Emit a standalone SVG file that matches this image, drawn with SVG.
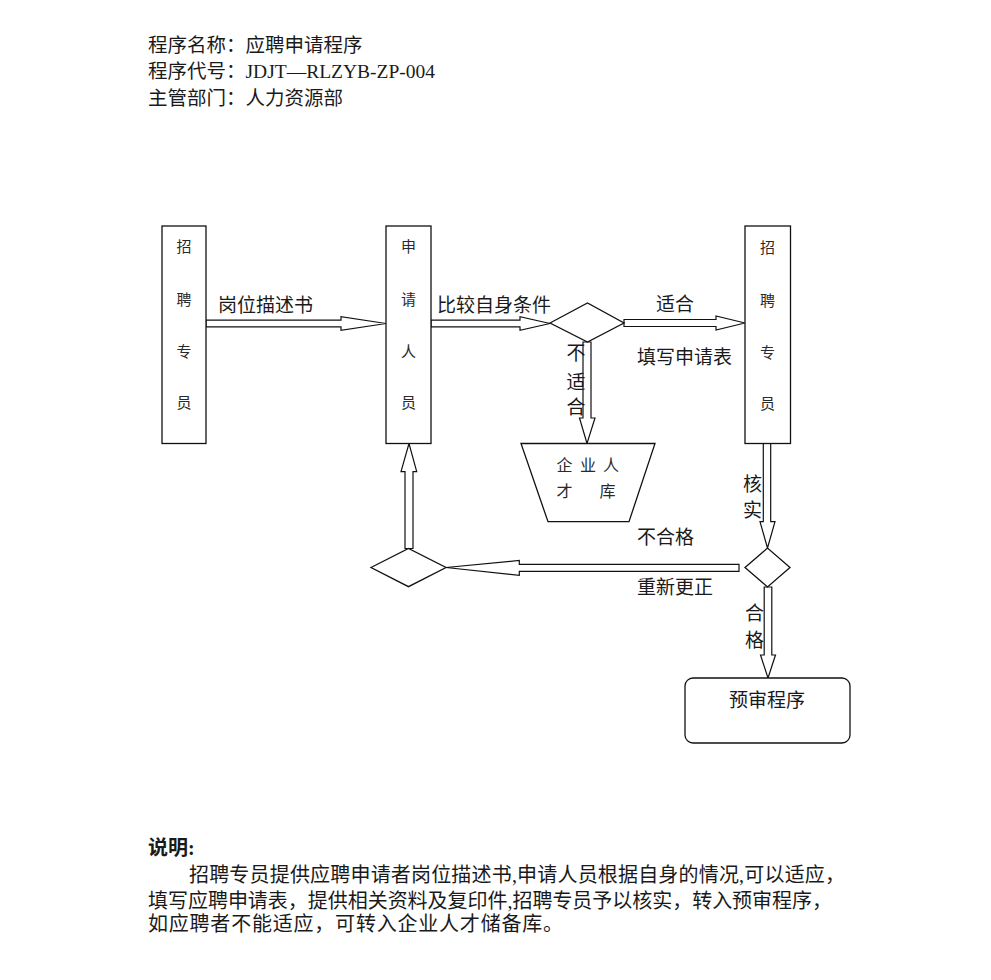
<svg xmlns="http://www.w3.org/2000/svg" width="991" height="980" viewBox="0 0 991 980">
<style>
text{font-family:"Liberation Serif","Noto Sans CJK SC",serif;fill:#1a1a1a}
.hd{font-size:19.5px}
.lb{font-size:19px}
.bx{font-size:15px;text-anchor:middle;fill:#2a2a2a}
.tp{font-size:16px;fill:#2a2a2a}
.sh{fill:#fff;stroke:#111;stroke-width:1.3}
.ar{fill:#fff;stroke:#111;stroke-width:1.2;stroke-linejoin:miter}
.bd{font-size:20px}
</style>
<rect width="991" height="980" fill="#fff"/>
<g id="header">
<text class="hd" x="148" y="52">程序名称：应聘申请程序</text>
<text class="hd" x="148" y="78">程序代号：JDJT—RLZYB-ZP-004</text>
<text class="hd" x="148" y="104.5">主管部门：人力资源部</text>
</g>
<g id="connectors">
<polygon class="ar" points="206,320.2 341,320.2 341,316.7 386,323.5 341,330.3 341,326.8 206,326.8"/>
<polygon class="ar" points="431,320.2 520,320.2 520,316.7 550,323.5 520,330.3 520,326.8 431,326.8"/>
<polygon class="ar" points="624,319.5 716,319.5 716,316 745,323 716,330 716,326.5 624,326.5"/>
<polygon class="ar" points="583,342 591,342 591,418 595,418 587,443.5 579.5,418 583,418"/>
<polygon class="ar" points="763.3,443.5 770.7,443.5 770.7,521.7 775,521.7 767.5,548 760,521.7 763.3,521.7"/>
<polygon class="ar" points="739,564.3 519.3,564.3 519.3,560.5 446,567.5 519.3,575.3 519.3,571.3 739,571.3"/>
<polygon class="ar" points="405,548.5 413,548.5 413,471.7 416.7,471.7 409,443.5 401,471.7 405,471.7"/>
<polygon class="ar" points="764.2,587 771.8,587 771.8,655 775.5,655 768,678 760.5,655 764.2,655"/>
<text class="lb" x="218" y="311.5">岗位描述书</text>
<text class="lb" x="437" y="311.5">比较自身条件</text>
<text class="lb" x="656" y="311">适合</text>
<text class="lb" x="637" y="364">填写申请表</text>
<text class="lb" x="566.5" y="360">不</text>
<text class="lb" x="566.5" y="388.5">适</text>
<text class="lb" x="566.5" y="414">合</text>
<text class="lb" x="743" y="491">核</text>
<text class="lb" x="743" y="517">实</text>
<text class="lb" x="637" y="544">不合格</text>
<text class="lb" x="637" y="594">重新更正</text>
<text class="lb" x="745" y="620">合</text>
<text class="lb" x="745" y="647">格</text>
</g>
<g id="n-recruiter1">
<rect class="sh" x="162" y="226" width="44" height="217.5"/>
<text class="bx" x="184" y="252">招</text>
<text class="bx" x="184" y="305">聘</text>
<text class="bx" x="184" y="356.5">专</text>
<text class="bx" x="184" y="407.5">员</text>
</g>
<g id="n-applicant">
<rect class="sh" x="386" y="226" width="45" height="217.5"/>
<text class="bx" x="408.5" y="251.5">申</text>
<text class="bx" x="408.5" y="304.5">请</text>
<text class="bx" x="408.5" y="357">人</text>
<text class="bx" x="408.5" y="407.5">员</text>
</g>
<g id="n-recruiter2">
<rect class="sh" x="745" y="226" width="45.5" height="217.5"/>
<text class="bx" x="767.5" y="252.5">招</text>
<text class="bx" x="767.5" y="305.5">聘</text>
<text class="bx" x="767.5" y="357.5">专</text>
<text class="bx" x="767.5" y="408.5">员</text>
</g>
<g id="n-decision1">
<polygon class="sh" points="550,323 587.5,303 624,323 587.5,342"/>
</g>
<g id="n-talentpool">
<polygon class="sh" points="521,443.5 655,443.5 629,521.7 548,521.7"/>
<text class="tp" x="556.5 572.5 580 596 603" y="471">企 业 人</text>
<text class="tp" x="556.5 578 599.5" y="496.5">才 库</text>
</g>
<g id="n-decision2">
<polygon class="sh" points="745,567.5 767.5,548 790,567.5 767.5,587"/>
</g>
<g id="n-decision3">
<polygon class="sh" points="371,567.5 408.5,548.5 446,567.5 408.5,586.7"/>
</g>
<g id="n-pretrial">
<rect class="sh" x="685" y="678" width="165" height="65" rx="8"/>
<text class="lb" x="729" y="707">预审程序</text>
</g>
<g id="notes">
<text class="bd" x="148" y="855" font-weight="bold">说明:</text>
<text class="bd" x="189" y="882" textLength="656" lengthAdjust="spacing">招聘专员提供应聘申请者岗位描述书,申请人员根据自身的情况,可以适应，</text>
<text class="bd" x="148" y="908" textLength="684" lengthAdjust="spacing">填写应聘申请表，提供相关资料及复印件,招聘专员予以核实，转入预审程序，</text>
<text class="bd" x="148" y="930.5" textLength="415" lengthAdjust="spacing">如应聘者不能适应，可转入企业人才储备库。</text>
</g>
</svg>
